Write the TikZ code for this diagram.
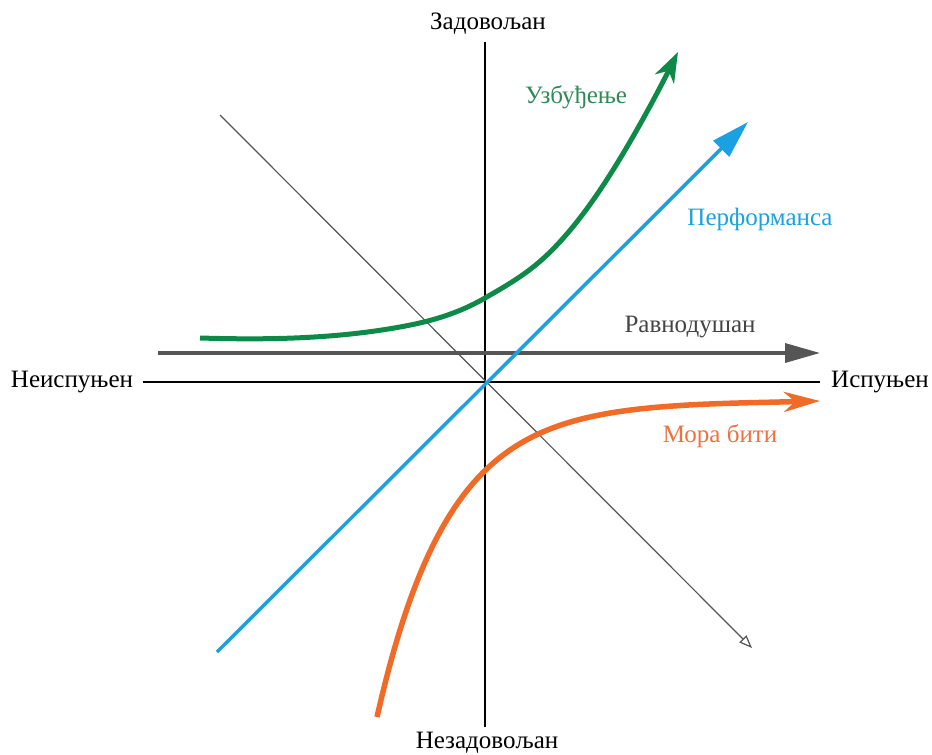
\documentclass[tikz,border=0pt]{standalone}
\usepackage{fontspec}
\setmainfont{Liberation Serif}
\newfontfamily\lblserif{Liberation Serif}
\usetikzlibrary{arrows.meta}
\definecolor{cgreen}{HTML}{0E8A48}
\definecolor{cblue}{HTML}{1BA1E2}
\definecolor{corange}{HTML}{F06A28}
\definecolor{cgray}{HTML}{555555}
\definecolor{cgraytxt}{HTML}{444444}
\definecolor{cgreentxt}{HTML}{2E8B57}
\definecolor{corangetxt}{HTML}{F07040}
\tikzset{
  lbl/.style={font=\lblserif\fontsize{25}{28}\selectfont, inner sep=2pt},
  axisline/.style={draw=black, line width=1.2pt},
}
\begin{document}
\begin{tikzpicture}[x=1pt,y=-1pt]
\useasboundingbox (0,0) rectangle (932,755);
% labels
\node[lbl] (top) at (488,24) {Задовољан};
\node[lbl] (bot) at (487,743) {Незадовољан};
\node[lbl] (left) at (72,382) {Неиспуњен};
\node[lbl] (right) at (880,382) {Испуњен};
\node[lbl, text=cgreentxt] (lexc) at (576,97) {Узбуђење};
\node[lbl, text=cblue] (lperf) at (760,219) {Перформанса};
\node[lbl, text=cgraytxt] (lind) at (690,327) {Равнодушан};
\node[lbl, text=corangetxt] (lmust) at (720,436) {Мора бити};
% coordinates
\coordinate (vt) at (485,42);
\coordinate (vb) at (485,727);
\coordinate (hl) at (143,382);
\coordinate (hr) at (820,382);
% axes
\draw[axisline] (vt) -- (vb);
\draw[axisline] (hl) -- (hr);
% diagonal (reverse)
\coordinate (d1) at (220,115);
\coordinate (d2) at (752,648);
\draw[cgray, line width=1.2pt, -{Triangle[open, length=13pt, width=10pt, line width=1.2pt]}] (d1) -- (d2);
% indifferent
\coordinate (i1) at (158,353);
\coordinate (i2) at (820,353);
\draw[cgray, line width=3.5pt, -{Triangle[length=35pt, width=19pt]}] (i1) -- (i2);
% performance
\coordinate (p1) at (217,652);
\coordinate (p2) at (748,122);
\draw[cblue, line width=3.5pt, -{Triangle[length=38pt, width=22pt]}] (p1) -- (p2);
% excitement
\coordinate (e1) at (200,338);
\coordinate (e2) at (678,52);
\draw[cgreen, line width=5pt, -{Stealth[length=30pt, width=21pt, inset=9pt]}]
  (e1) .. controls (266.7,340) and (333.3,339) .. (400,327)
  .. controls (428.3,321.9) and (456.7,314.4) .. (485,298)
  .. controls (505.7,286) and (526.3,274.7) .. (547,255)
  .. controls (569,234.1) and (591,205.2) .. (613,170)
  .. controls (634.7,135.3) and (656.3,95.3) .. (e2);
% must-be
\coordinate (m1) at (377,717);
\coordinate (m2) at (820,401);
\draw[corange, line width=5.5pt, line join=round, -{Stealth[length=36pt, width=20pt, inset=11pt]}]
  (m1) -- plot[domain=377:760, samples=90] (\x, {401+316*exp(-0.014*(\x-377))}) -- (m2);
\end{tikzpicture}
\end{document}
